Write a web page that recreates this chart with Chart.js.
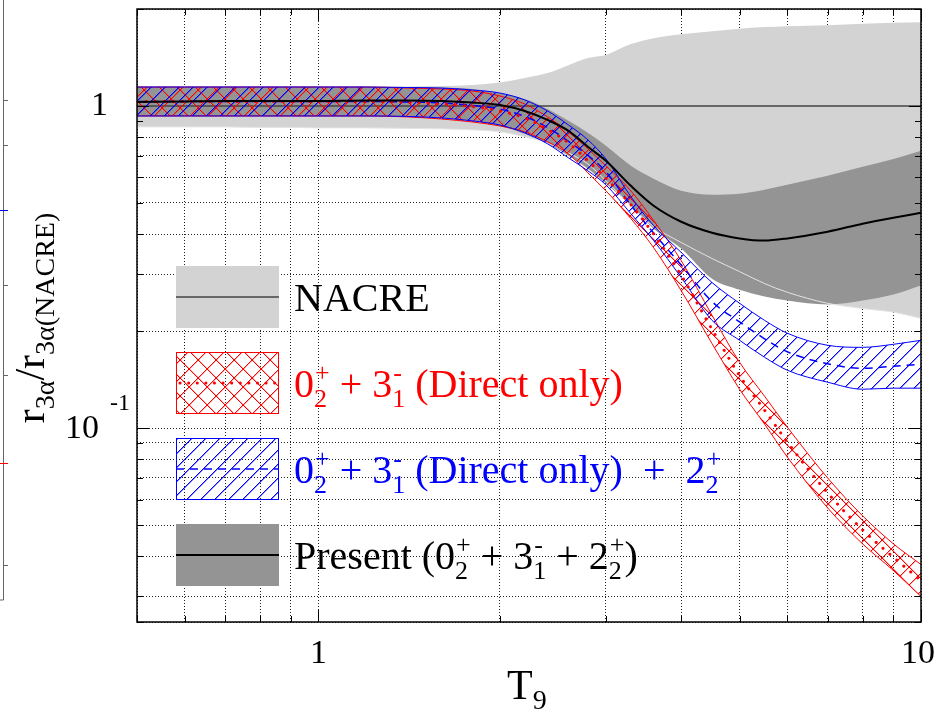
<!DOCTYPE html>
<html>
<head>
<meta charset="utf-8">
<script src="https://cdn.jsdelivr.net/npm/chart.js@4.4.0/dist/chart.umd.min.js"></script>
<style>
  html, body { margin: 0; padding: 0; background: #fff; }
  #wrap { width: 945px; height: 713px; position: relative; }
</style>
</head>
<body>
<div id="wrap"><canvas id="rate"></canvas></div>
<script>
// temperature grid (T9)
const T9 = [0.5, 0.6, 0.7, 0.8, 0.9, 1.0, 1.2, 1.4, 1.6, 1.8, 2.0, 2.2, 2.4, 2.6, 2.8, 3.0, 3.3, 3.6, 4.0, 4.5, 5.0, 5.5, 6.0, 7.0, 8.0, 9.0, 10.0];

// NACRE uncertainty band (ratio to NACRE itself)
const nacreUp = [1.149, 1.149, 1.149, 1.149, 1.149, 1.149, 1.149, 1.149, 1.153, 1.162, 1.182, 1.221, 1.265, 1.339, 1.408, 1.439, 1.556, 1.624, 1.671, 1.707, 1.738, 1.757, 1.769, 1.782, 1.801, 1.814, 1.820];
const nacreLo = [0.861, 0.861, 0.861, 0.858, 0.858, 0.855, 0.855, 0.852, 0.849, 0.843, 0.831, 0.802, 0.768, 0.715, 0.661, 0.586, 0.490, 0.422, 0.377, 0.336, 0.306, 0.281, 0.264, 0.244, 0.235, 0.229, 0.219];
const nacreMid = T9.map(() => 1);

// present work (0+2 + 3-1 + 2+2)
const presUp = [1.145, 1.145, 1.145, 1.145, 1.145, 1.145, 1.145, 1.145, 1.141, 1.129, 1.097, 1.051, 0.979, 0.899, 0.825, 0.752, 0.652, 0.594, 0.545, 0.530, 0.534, 0.549, 0.569, 0.607, 0.647, 0.685, 0.726];
const presLo = [0.931, 0.931, 0.931, 0.931, 0.931, 0.931, 0.931, 0.928, 0.918, 0.899, 0.867, 0.819, 0.763, 0.700, 0.638, 0.574, 0.490, 0.416, 0.361, 0.291, 0.269, 0.256, 0.249, 0.242, 0.249, 0.260, 0.277];
const presMid = [1.029, 1.033, 1.036, 1.036, 1.036, 1.036, 1.040, 1.040, 1.036, 1.025, 1.007, 0.965, 0.905, 0.837, 0.747, 0.676, 0.565, 0.490, 0.437, 0.404, 0.388, 0.382, 0.388, 0.407, 0.431, 0.450, 0.466];

// 0+2 + 3-1 (direct only)
const redUp = [1.145, 1.145, 1.145, 1.145, 1.145, 1.145, 1.145, 1.137, 1.129, 1.113, 1.074, 1.014, 0.925, 0.831, 0.736, 0.652, 0.545, 0.441, 0.331, 0.224, 0.160, 0.1256, 0.1007, 0.0700, 0.0534, 0.0437, 0.0377];
const redLo = [0.931, 0.931, 0.931, 0.931, 0.931, 0.931, 0.931, 0.925, 0.911, 0.892, 0.867, 0.831, 0.774, 0.710, 0.620, 0.545, 0.447, 0.363, 0.267, 0.183, 0.1320, 0.1029, 0.0813, 0.0565, 0.0437, 0.0361, 0.0300];
const redMid = [1.033, 1.033, 1.033, 1.033, 1.033, 1.033, 1.033, 1.025, 1.014, 0.996, 0.965, 0.918, 0.846, 0.768, 0.676, 0.596, 0.494, 0.400, 0.298, 0.2025, 0.1454, 0.1137, 0.0905, 0.0629, 0.0483, 0.0397, 0.0336];

// 0+2 + 3-1 (direct only) + 2+2
const blueUp = [1.145, 1.145, 1.145, 1.145, 1.145, 1.145, 1.145, 1.141, 1.137, 1.121, 1.097, 1.044, 0.965, 0.873, 0.785, 0.685, 0.523, 0.425, 0.351, 0.283, 0.244, 0.216, 0.197, 0.1807, 0.1781, 0.1820, 0.1873];
const blueLo = [0.931, 0.931, 0.931, 0.931, 0.931, 0.931, 0.931, 0.928, 0.918, 0.899, 0.873, 0.825, 0.763, 0.690, 0.629, 0.569, 0.463, 0.382, 0.2935, 0.216, 0.1873, 0.1659, 0.1512, 0.1388, 0.1320, 0.1330, 0.1330];
const blueMid = [1.033, 1.033, 1.033, 1.033, 1.033, 1.033, 1.033, 1.029, 1.022, 1.004, 0.979, 0.928, 0.858, 0.776, 0.703, 0.625, 0.492, 0.403, 0.321, 0.247, 0.2137, 0.1893, 0.1725, 0.1584, 0.1533, 0.1556, 0.1578];

// axes
const xTicks = [0.5, 0.6, 0.7, 0.8, 0.9, 1, 2, 3, 4, 5, 6, 7, 8, 9, 10];
const yTicks = [0.025, 0.03, 0.04, 0.05, 0.06, 0.07, 0.08, 0.09, 0.1, 0.2, 0.3, 0.4, 0.5, 0.6, 0.7, 0.8, 0.9, 1, 2];
const xMajor = [1, 10];
const yMajor = [0.1, 1];

const FONT = '"Liberation Serif", "Times New Roman", serif';

function pts(vals) {
  return T9.map((t, i) => ({ x: t, y: vals[i] }));
}

// diagonal hatching, one solid pixel plus a soft neighbour so the colour reads
function hatch(color, soft, size, cross) {
  const c = document.createElement('canvas');
  c.width = size; c.height = size;
  const g = c.getContext('2d');
  for (let i = 0; i < size; i++) {
    g.fillStyle = soft;
    g.fillRect((i + 1) % size, size - 1 - i, 1, 1);
    if (cross) g.fillRect((i + 1) % size, i, 1, 1);
    g.fillStyle = color;
    g.fillRect(i, size - 1 - i, 1, 1);
    if (cross) g.fillRect(i, i, 1, 1);
  }
  return g.createPattern(c, 'repeat');
}

const redPat = hatch('#ff0000', 'rgba(255,0,0,0.3)', 18, true);
const bluePat = hatch('#0000ff', 'rgba(0,0,255,0.45)', 14, false);

// text pieces: string = normal, {sub, sup} = stacked indices
function rich(ctx, segs, x, y, size, draw) {
  const small = Math.round(size * 0.66);
  for (const s of segs) {
    if (typeof s === 'string') {
      ctx.font = size + 'px ' + FONT;
      if (draw) ctx.fillText(s, x, y);
      x += ctx.measureText(s).width;
    } else {
      ctx.font = small + 'px ' + FONT;
      let w = 0;
      if (s.sub) {
        if (draw) ctx.fillText(s.sub, x, y + size * 0.24);
        w = Math.max(w, ctx.measureText(s.sub).width);
      }
      if (s.sup) {
        if (draw) ctx.fillText(s.sup, x + 1, y - size * 0.40);
        w = Math.max(w, ctx.measureText(s.sup).width + 1);
      }
      x += w;
    }
  }
  return x;
}

const legendRows = [
  { fill: '#d3d3d3', line: '#444', lw: 1.5, dash: [], color: '#000',
    text: ['NACRE'] },
  { fill: redPat, border: '#ff0000', line: '#ff0000', lw: 3, dash: [0.1, 8.5], cap: 'round', color: '#ff0000',
    text: ['0', { sub: '2', sup: '+' }, ' + 3', { sub: '1', sup: '-' }, ' (Direct only)'] },
  { fill: bluePat, border: '#0000ff', line: '#0000ff', lw: 1.5, dash: [8, 6], color: '#0000ff',
    text: ['0', { sub: '2', sup: '+' }, ' + 3', { sub: '1', sup: '-' }, ' (Direct only)  +  2', { sub: '2', sup: '+' }] },
  { fill: '#949494', line: '#000', lw: 2, dash: [], color: '#000',
    text: ['Present (0', { sub: '2', sup: '+' }, ' + 3', { sub: '1', sup: '-' }, ' + 2', { sub: '2', sup: '+' }, ')'] }
];

const decor = {
  id: 'decor',
  afterDraw(chart) {
    const ctx = chart.ctx;
    const ca = chart.chartArea;
    const xs = chart.scales.x, ys = chart.scales.y;
    ctx.save();

    // inward tick marks on all four sides
    ctx.strokeStyle = '#000';
    ctx.lineWidth = 1;
    ctx.setLineDash([]);
    ctx.beginPath();
    xTicks.forEach(v => {
      const px = Math.round(xs.getPixelForValue(v)) + 0.5;
      const len = xMajor.includes(v) ? 12 : 6;
      ctx.moveTo(px, ca.bottom); ctx.lineTo(px, ca.bottom - len);
      ctx.moveTo(px, ca.top); ctx.lineTo(px, ca.top + len);
    });
    yTicks.forEach(v => {
      const py = Math.round(ys.getPixelForValue(v)) + 0.5;
      const len = yMajor.includes(v) ? 12 : 6;
      ctx.moveTo(ca.left, py); ctx.lineTo(ca.left + len, py);
      ctx.moveTo(ca.right, py); ctx.lineTo(ca.right - len, py);
    });
    ctx.stroke();

    // frame
    ctx.lineWidth = 1.5;
    ctx.strokeRect(ca.left, ca.top, ca.right - ca.left, ca.bottom - ca.top);

    // tick labels
    ctx.fillStyle = '#000';
    ctx.textBaseline = 'middle';
    ctx.font = '34px ' + FONT;
    ctx.textAlign = 'center';
    xMajor.forEach(v => {
      const px = xs.getPixelForValue(v);
      ctx.fillText(String(v), v === 10 ? px - 3 : px, ca.bottom + 32);
    });
    ctx.textAlign = 'right';
    ctx.fillText('1', ca.left - 29, ys.getPixelForValue(1));
    const p01 = ys.getPixelForValue(0.1);
    ctx.fillText('10', ca.left - 38, p01 + 1);
    ctx.textAlign = 'left';
    ctx.font = '24px ' + FONT;
    ctx.fillText('-1', ca.left - 27, p01 - 24);

    // axis titles
    ctx.textBaseline = 'alphabetic';
    ctx.textAlign = 'left';
    rich(ctx, ['T', { sub: '9' }], 507, 699, 42, true);

    const ySegs = ['r', { sub: '3\u03b1' }, '/r', { sub: '3\u03b1(NACRE)' }];
    const w = rich(ctx, ySegs, 0, 0, 42, false);
    ctx.save();
    ctx.translate(44, 318);
    ctx.rotate(-Math.PI / 2);
    rich(ctx, ySegs, -w / 2, 0, 42, true);
    ctx.restore();

    // legend
    const bx = ca.left + 39, bw = 103, bh = 62;
    legendRows.forEach((r, i) => {
      const by = 266 + i * 86;
      ctx.fillStyle = r.fill;
      ctx.fillRect(bx, by, bw, bh);
      if (r.border) {
        ctx.strokeStyle = r.border;
        ctx.lineWidth = 1;
        ctx.setLineDash([]);
        ctx.strokeRect(bx + 0.5, by + 0.5, bw - 1, bh - 1);
      }
      ctx.strokeStyle = r.line;
      ctx.lineWidth = r.lw;
      ctx.lineCap = r.cap || 'butt';
      ctx.setLineDash(r.dash);
      ctx.beginPath();
      ctx.moveTo(bx + (r.cap ? 4 : 0), by + bh / 2);
      ctx.lineTo(bx + bw, by + bh / 2);
      ctx.stroke();
      ctx.setLineDash([]);
      ctx.lineCap = 'butt';
      ctx.fillStyle = r.color;
      rich(ctx, r.text, bx + 118, by + bh / 2 + 14, 40, true);
    });

    // edge of the neighbouring panel, cut off at the left
    ctx.strokeStyle = '#666';
    ctx.lineWidth = 1;
    ctx.beginPath();
    ctx.moveTo(3.5, 0); ctx.lineTo(3.5, 600); ctx.lineTo(0, 600);
    [100, 145, 285, 375, 565].forEach(y => { ctx.moveTo(3.5, y + 0.5); ctx.lineTo(8, y + 0.5); });
    ctx.stroke();
    ctx.strokeStyle = '#0000ff';
    ctx.beginPath(); ctx.moveTo(0, 210.5); ctx.lineTo(8, 210.5); ctx.stroke();
    ctx.strokeStyle = '#ff0000';
    ctx.beginPath(); ctx.moveTo(0, 463.5); ctx.lineTo(8, 463.5); ctx.stroke();

    ctx.restore();
  }
};

function band(vals, extra) {
  return Object.assign({
    data: pts(vals),
    pointRadius: 0,
    borderWidth: 0,
    fill: false,
    cubicInterpolationMode: 'monotone'
  }, extra);
}

const ctx = document.getElementById('rate').getContext('2d');
new Chart(ctx, {
  type: 'line',
  data: {
    datasets: [
      band(nacreUp, { fill: '+1', backgroundColor: '#d3d3d3', order: 10 }),
      band(nacreLo, { borderColor: '#e4e4e4', borderWidth: 1, order: 7 }),
      band(presUp, { fill: '+1', backgroundColor: '#949494', order: 9 }),
      band(presLo, { order: 9 }),
      band(nacreMid, { borderColor: '#444', borderWidth: 1.5, order: 6 }),
      band(redUp, { fill: '+1', backgroundColor: redPat, borderColor: '#ff0000', borderWidth: 1, order: 5 }),
      band(redLo, { borderColor: '#ff0000', borderWidth: 1, order: 5 }),
      band(blueUp, { fill: '+1', backgroundColor: bluePat, borderColor: '#0000ff', borderWidth: 1, order: 4 }),
      band(blueLo, { borderColor: '#0000ff', borderWidth: 1, order: 4 }),
      band(redMid, { borderColor: '#ff0000', borderWidth: 3, borderDash: [0.1, 9], borderCapStyle: 'round', order: 3 }),
      band(blueMid, { borderColor: '#0000ff', borderWidth: 1.5, borderDash: [8, 6], order: 3 }),
      band(presMid, { borderColor: '#000000', borderWidth: 2, order: 2 })
    ]
  },
  options: {
    responsive: true,
    maintainAspectRatio: false,
    animation: false,
    layout: { padding: { left: 137, right: 24, top: 9, bottom: 91 } },
    plugins: { legend: { display: false }, tooltip: { enabled: false } },
    scales: {
      x: {
        type: 'logarithmic',
        min: 0.5,
        max: 10,
        afterBuildTicks: s => { s.ticks = xTicks.map(v => ({ value: v })); },
        afterFit: s => { s.height = 0; },
        ticks: { display: false },
        grid: { color: '#222', lineWidth: 1, drawTicks: false },
        border: { display: false, dash: [1, 2] }
      },
      y: {
        type: 'logarithmic',
        min: 0.025,
        max: 2,
        afterBuildTicks: s => { s.ticks = yTicks.map(v => ({ value: v })); },
        afterFit: s => { s.width = 0; },
        ticks: { display: false },
        grid: { color: '#222', lineWidth: 1, drawTicks: false },
        border: { display: false, dash: [1, 2] }
      }
    }
  },
  plugins: [decor]
});
</script>
</body>
</html>
